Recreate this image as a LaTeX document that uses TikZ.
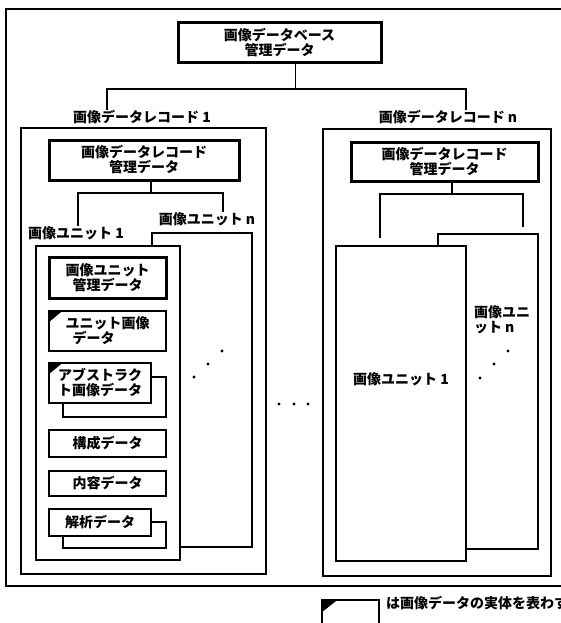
\documentclass[tikz,border=0pt]{standalone}
\usepackage{fontspec}
\newfontfamily\jp{Noto Sans CJK JP}
\tikzset{
  thin/.style={line width=1.3pt},
  box/.style={draw, line width=1.3pt, fill=white, inner sep=0pt, outer sep=0pt, anchor=north west, align=center, font=\jp\bfseries\fontsize{14}{15}\selectfont},
  mgmt/.style={box, line width=3pt},
  lbl/.style={inner sep=0pt, outer sep=0pt, font=\jp\bfseries\fontsize{14}{15}\selectfont},
  dot/.style={fill=black}
}
\begin{document}
\begin{tikzpicture}[x=1pt,y=-1pt]
\useasboundingbox (0,0) rectangle (561,623);
\clip (0,0) rectangle (561,623);
% outer frame
\draw[thin] (6,9) rectangle (580,586);
% top database management box
\node[mgmt, minimum width=203pt, minimum height=40pt] (dbm) at (178,23) {画像データベース\\管理データ};
% record labels
\node[lbl] (r1lab) at (142,117) {画像データレコード 1};
\node[lbl] (rnlab) at (448,117) {画像データレコード n};
\draw[thin] ([xshift=16pt]dbm.south) -- ++(0,26) coordinate (dbbus);
\draw[thin] ([xshift=-35pt]r1lab.north) |- (dbbus) -| ([xshift=18pt]rnlab.north);
% record boxes
\node[box, minimum width=245pt, minimum height=446pt] (rec1) at (21,128) {};
\node[box, minimum width=228pt, minimum height=447pt] (recn) at (323,129) {};
% ---------- record 1 ----------
\node[mgmt, minimum width=190pt, minimum height=40pt] (r1m) at (49,140) {画像データレコード\\管理データ};
\node[lbl] (r1u1lab) at (76,233) {画像ユニット 1};
\node[lbl] (r1unlab) at (207,219) {画像ユニット n};
\draw[thin] ([xshift=7pt]r1m.south) -- ++(0,13) coordinate (r1bus);
\draw[thin] ([xshift=2pt]r1u1lab.north) |- (r1bus) -| ([xshift=16pt]r1unlab.north);
\node[box, minimum width=100pt, minimum height=314pt] (r1un) at (152,233) {};
\node[box, minimum width=144pt, minimum height=314pt] (r1u1) at (36,246) {};
\node[mgmt, minimum width=117pt, minimum height=41pt] (umg) at (49,257) {画像ユニット\\管理データ};
\node[box, minimum width=117pt, minimum height=40pt, align=left] (uimg) at (49,311) {ユニット画像\\\hspace*{7pt}データ};
\fill ([shift={(0.6,0.6)}]uimg.north west) -- ++(12,0) -- ++(-12,10) -- cycle;
\node[box, minimum width=103pt, minimum height=40pt] (absb) at (63,377) {};
\node[box, minimum width=102pt, minimum height=40pt] (abs) at (49,363) {アブストラク\\ト画像データ};
\fill ([shift={(0.6,0.6)}]abs.north west) -- ++(12,0) -- ++(-12,10) -- cycle;
\node[box, minimum width=117pt, minimum height=27pt] (kosei) at (49,430) {構成データ};
\node[box, minimum width=117pt, minimum height=25pt] (naiyo) at (49,471) {内容データ};
\node[box, minimum width=103pt, minimum height=26pt] (kaib) at (63,522) {};
\node[box, minimum width=102pt, minimum height=27pt] (kai) at (49,509) {解析データ};
\fill[dot] (222,351) circle[radius=1.6pt];
\fill[dot] (208,364) circle[radius=1.6pt];
\fill[dot] (194,377) circle[radius=1.6pt];
% middle dots
\fill[dot] (279,404) circle[radius=1.6pt];
\fill[dot] (294,404) circle[radius=1.6pt];
\fill[dot] (308,404) circle[radius=1.6pt];
% ---------- record n ----------
\node[mgmt, minimum width=187pt, minimum height=39pt] (rnm) at (351,142) {画像データレコード\\管理データ};
\node[box, minimum width=100pt, minimum height=315pt] (rnun) at (438,234) {};
\node[box, minimum width=130pt, minimum height=315pt] (rnu1) at (336,246) {};
\draw[thin] ([xshift=7.5pt]rnm.south) -- ++(0,13) coordinate (rnbus);
\draw[thin] ([xshift=-21pt,yshift=8pt]rnu1.north) |- (rnbus) -| ([xshift=35pt,yshift=7pt]rnun.north);
\node[lbl] (rnu1lab) at (401,379) {画像ユニット 1};
\node[lbl, anchor=west, align=left] (rnunlab) at (474,320) {画像ユニ\\ット n};
\fill[dot] (508,351) circle[radius=1.6pt];
\fill[dot] (494,364) circle[radius=1.6pt];
\fill[dot] (480,378) circle[radius=1.6pt];
% ---------- legend ----------
\node[box, minimum width=57pt, minimum height=40pt] (leg) at (322,600) {};
\fill ([shift={(0.6,0.6)}]leg.north west) -- ++(14,0) -- ++(-14,11) -- cycle;
\node[lbl, anchor=west] (legtxt) at (386,603) {は画像データの実体を表わす};
\end{tikzpicture}
\end{document}
